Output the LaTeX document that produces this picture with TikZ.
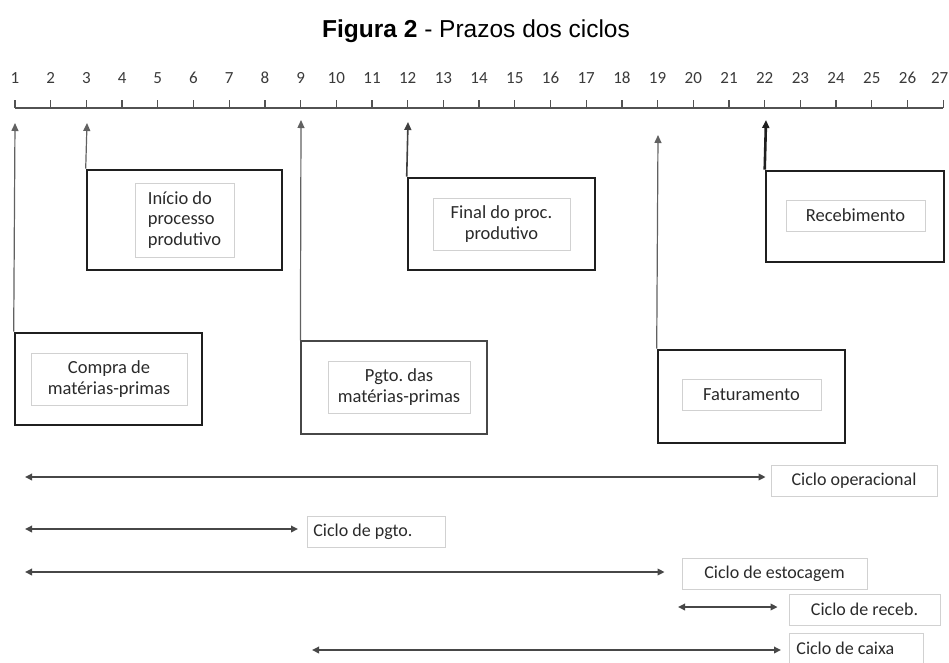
\documentclass[tikz,border=0pt]{standalone}
\usepackage{fontspec}
\setmainfont{Carlito}
\newfontfamily\titlefont{Liberation Sans}
\usetikzlibrary{arrows.meta,calc}
\definecolor{txt}{HTML}{2A2A2A}
\definecolor{lbl}{HTML}{3A3A3A}
\begin{document}
\begin{tikzpicture}[x=1pt,y=-1pt,
  outerthick/.style={draw=black!88, line width=2.6pt, inner sep=0pt},
  outerthin/.style={draw=black!72, line width=1.2pt, inner sep=0pt},
  innerbox/.style={draw=black!18, line width=0.8pt, inner sep=0pt, text=txt,
     font=\fontsize{18.5}{20.5}\selectfont, align=center},
  cyclelbl/.style={draw=black!18, line width=0.8pt, inner sep=0pt, text=txt,
     font=\fontsize{18}{20}\selectfont, minimum height=31pt},
  varrow/.style={draw=black!62, line width=1.2pt, -{Triangle[length=8pt,width=7pt]}},
  varrowthick/.style={draw=black!88, line width=2.6pt, -{Triangle[length=8pt,width=7pt]}},
  harrow/.style={draw=black!72, line width=1.8pt, {Triangle[length=7pt,width=6.5pt]}-{Triangle[length=7pt,width=6.5pt]}},
  axisline/.style={draw=black!68, line width=1.3pt},
  ticklbl/.style={text=lbl, font=\fontsize{17}{19}\selectfont}
]
\useasboundingbox (0,0) rectangle (949,662);

% title
\node (title) at (476,31) {\titlefont\fontsize{24.5}{28}\selectfont\textbf{Figura 2} - Prazos dos ciclos};

% axis
\draw[axisline] (15,108) -- (943.2,108);
\foreach \k in {1,...,27}{
  \pgfmathsetmacro{\xx}{15+(\k-1)*35.7}
  \draw[axisline] (\xx,100) -- (\xx,108);
}
\foreach \k in {1,...,26}{
  \pgfmathsetmacro{\xx}{15+(\k-1)*35.7}
  \node[ticklbl] (lab\k) at (\xx,78) {\k};
}
\node[ticklbl, anchor=east, inner xsep=0.5pt] (lab27) at (949,78) {27};

% outer boxes
\node[outerthick, minimum width=187pt, minimum height=92pt] (compra) at (108.5,379) {};
\node[outerthick, minimum width=195pt, minimum height=100pt] (inicio) at (184.5,220) {};
\node[outerthin,  minimum width=186pt, minimum height=93pt] (pgto) at (394,387.5) {};
\node[outerthick, minimum width=187pt, minimum height=92pt] (final) at (501.5,224) {};
\node[outerthick, minimum width=187pt, minimum height=93pt] (fat) at (751.5,396.5) {};
\node[outerthick, minimum width=178pt, minimum height=91pt] (receb) at (855,216.5) {};

% inner boxes
\node[innerbox, minimum width=156pt, minimum height=52pt] (compraIn) at (109,379) {Compra de\\matérias-primas};
\node[innerbox, minimum width=99pt, minimum height=74pt, align=left] (inicioIn) at (184.5,220) {Início do\\processo\\produtivo};
\node[innerbox, minimum width=142pt, minimum height=52pt] (pgtoIn) at (399,387) {Pgto.\ das\\matérias-primas};
\node[innerbox, minimum width=137pt, minimum height=52pt] (finalIn) at (501.5,224) {Final do proc.\\produtivo};
\node[innerbox, minimum width=139pt, minimum height=31pt] (fatIn) at (751.5,394.5) {Faturamento};
\node[innerbox, minimum width=139pt, minimum height=31pt] (recebIn) at (855.5,215.5) {Recebimento};

% arrow tips under the axis
\coordinate (a1) at (15,123);
\coordinate (a3) at (87,123);
\coordinate (a9) at (301,120);
\coordinate (a12) at (408,122);
\coordinate (a19) at (658,135);
\coordinate (a22) at (766,120);

\draw[varrow] (compra.north west) -- (a1);
\draw[varrow] (inicio.north west) -- (a3);
\draw[varrow] (pgto.north west) -- (a9);
\draw[varrow, line width=1.6pt, draw=black!75] (final.north west) -- (a12);
\draw[varrow] (fat.north west) -- (a19);
\draw[varrowthick] (receb.north west) -- (a22);

% cycle labels
\node[cyclelbl, minimum width=166pt] (opL) at (854,480.5) {Ciclo operacional};
\node[cyclelbl, anchor=west, inner xsep=6pt] (pgL) at (307,531.5) {\makebox[126pt][l]{Ciclo de pgto.}};
\node[cyclelbl, minimum width=185pt] (esL) at (774.5,573.5) {Ciclo de estocagem};
\node[cyclelbl, minimum width=151pt] (rcL) at (864.5,609.5) {Ciclo de receb.};
\node[cyclelbl, anchor=west, inner xsep=7pt, minimum height=30pt] (cxL) at (789,648) {\makebox[120pt][l]{Ciclo de caixa}};

% cycle arrows
\coordinate (op0) at (25,477);
\coordinate (pg0) at (25,529);
\coordinate (es0) at (25,572);
\coordinate (rc0) at (678,607);
\coordinate (cx0) at (312,650);

\draw[harrow, shorten >=5pt] (op0) -- (op0 -| opL.west);
\draw[harrow, shorten >=9pt] (pg0) -- (pg0 -| pgL.west);
\draw[harrow, shorten >=17pt] (es0) -- (es0 -| esL.west);
\draw[harrow, shorten >=11pt] (rc0) -- (rc0 -| rcL.west);
\draw[harrow, shorten >=8pt] (cx0) -- (cx0 -| cxL.west);
\end{tikzpicture}
\end{document}
